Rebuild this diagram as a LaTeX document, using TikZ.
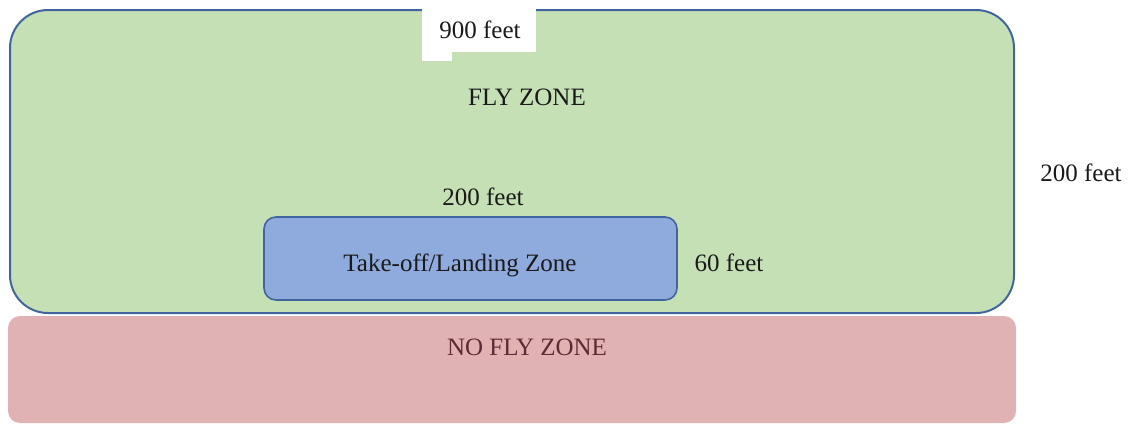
\documentclass[tikz,border=0pt]{standalone}
\usepackage{fontspec}
\setmainfont{Liberation Serif}
\usepackage{tikz}
\usetikzlibrary{positioning}
\definecolor{flygreen}{HTML}{C5E0B4}
\definecolor{zoneblue}{HTML}{8FAADC}
\definecolor{edgeblue}{HTML}{41659E}
\definecolor{nofly}{HTML}{E1B2B4}
\definecolor{noflytext}{HTML}{5E2A33}
\definecolor{inktext}{HTML}{1A1A1A}

\tikzset{
  flyzone/.style={fill=flygreen, draw=edgeblue, line width=1pt, rounded corners=19pt},
  padzone/.style={fill=zoneblue, draw=edgeblue, line width=0.8pt, rounded corners=6pt},
  noflyzone/.style={fill=nofly, rounded corners=6pt},
  lbl/.style={inner sep=0pt, text=inktext, font=\fontsize{12.5}{14}\selectfont},
  dimlbl/.style={lbl}
}

\begin{document}
\begin{tikzpicture}[x=0.5pt, y=-0.5pt]
  \useasboundingbox (0,0) rectangle (1128,425);
  % zones
  \draw [flyzone] (10,10) rectangle (1014,313);
  \fill [noflyzone] (8,316) rectangle (1016,423);
  \draw [padzone] (264,217) rectangle (677,300);
  % white patch behind the top label
  \fill [white] (422,8) rectangle (536,52);
  \fill [white] (422,50) rectangle (452,61);
  % labels
  \node [dimlbl] (width) at (480,30) {900 feet};
  \node [lbl] (fly) at (527,97) {FLY ZONE};
  \node [dimlbl] (padw) at (483,197) {200 feet};
  \node [lbl] (pad) at (460,265) {Take-off/Landing Zone};
  \node [dimlbl] (padh) at (729,263) {60 feet};
  \node [dimlbl] (height) at (1081,173) {200 feet};
  \node [lbl, text=noflytext] (nofly) at (527,347) {NO FLY ZONE};
\end{tikzpicture}
\end{document}
